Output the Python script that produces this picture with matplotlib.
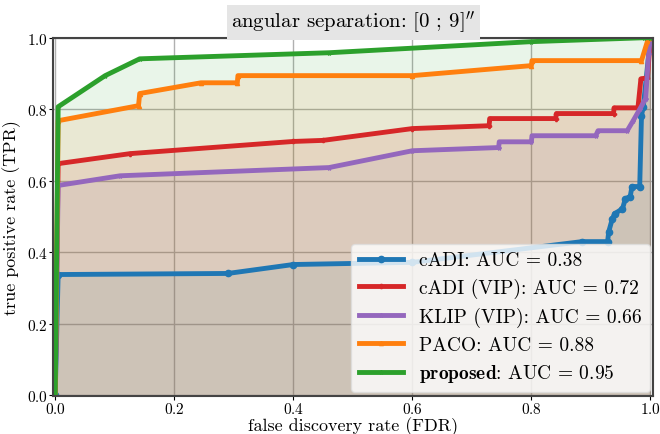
import numpy as np
import matplotlib
matplotlib.use("Agg")
import matplotlib.pyplot as plt

plt.rcParams['font.family'] = 'serif'
plt.rcParams['font.serif'] = ['cmr10']
plt.rcParams['mathtext.fontset'] = 'cm'
plt.rcParams['axes.formatter.use_mathtext'] = True

# ROC-like curves: (FDR, TPR)
cadi_x = [0.0, 0.005, 0.29, 0.40, 0.60, 0.885, 0.928, 0.93, 0.936, 0.94, 0.953, 0.958, 0.966, 0.969, 0.982, 0.985, 0.988, 1.0]
cadi_y = [0.0, 0.338, 0.341, 0.366, 0.372, 0.43, 0.43, 0.458, 0.494, 0.508, 0.522, 0.55, 0.556, 0.584, 0.584, 0.782, 0.807, 1.0]

cadivip_x = [0.0, 0.005, 0.126, 0.40, 0.45, 0.60, 0.729, 0.73, 0.841, 0.842, 0.938, 0.939, 0.979, 0.984, 0.995, 1.0]
cadivip_y = [0.0, 0.648, 0.676, 0.71, 0.713, 0.746, 0.754, 0.774, 0.774, 0.788, 0.788, 0.804, 0.804, 0.885, 0.888, 1.0]

klip_x = [0.0, 0.005, 0.109, 0.46, 0.60, 0.745, 0.746, 0.80, 0.801, 0.908, 0.912, 0.961, 0.971, 0.982, 0.992, 0.997, 1.0]
klip_y = [0.0, 0.587, 0.614, 0.637, 0.684, 0.693, 0.709, 0.709, 0.726, 0.726, 0.74, 0.74, 0.768, 0.80, 0.83, 0.955, 1.0]

paco_x = [0.0, 0.005, 0.14, 0.142, 0.245, 0.306, 0.307, 0.60, 0.80, 0.801, 0.985, 0.995, 1.0]
paco_y = [0.0, 0.768, 0.81, 0.844, 0.874, 0.874, 0.894, 0.894, 0.922, 0.936, 0.936, 0.99, 1.0]

prop_x = [0.0, 0.005, 0.084, 0.142, 0.46, 0.80, 0.99, 1.0]
prop_y = [0.0, 0.807, 0.894, 0.941, 0.958, 0.989, 1.0, 1.0]

labels = ["cADI: AUC = 0.38", "cADI (VIP): AUC = 0.72", "KLIP (VIP): AUC = 0.66",
          "PACO: AUC = 0.88", r"$\mathbf{proposed}$: AUC = 0.95"]
colors = ["#1f77b4", "#d62728", "#9467bd", "#ff7f0e", "#2ca02c"]
markers = ["o", "P", "*", "^", "*"]
msizes = [4.5, 3, 3, 3, 3]

curves = [(cadi_x, cadi_y), (cadivip_x, cadivip_y), (klip_x, klip_y),
          (paco_x, paco_y), (prop_x, prop_y)]

fig = plt.figure(figsize=(6.6, 4.35), dpi=100)
ax = fig.add_axes([0.080, 0.087, 0.910, 0.824])

for (x, y), lab, c, m, ms in zip(curves, labels, colors, markers, msizes):
    ax.fill_between(x, y, 0, color=c, alpha=0.1, lw=0)
    ax.plot(x, y, color=c, lw=3.5, marker=m, ms=ms, label=lab)

ax.set_xlim(-0.004, 1.005)
ax.set_ylim(-0.002, 1.0)
ax.set_xticks([0.0, 0.2, 0.4, 0.6, 0.8, 1.0])
ax.set_yticks([0.0, 0.2, 0.4, 0.6, 0.8, 1.0])
ax.tick_params(labelsize=11, length=3, pad=0.5)
ax.grid(True, color="#b0b0b0", lw=1)
ax.set_axisbelow(True)
for s in ax.spines.values():
    s.set_color("#444444")
    s.set_linewidth(1.5)

ax.set_xlabel("false discovery rate (FDR)", fontsize=13, labelpad=0)
ax.set_ylabel("true positive rate (TPR)", fontsize=13, labelpad=4)
ax.set_title(r"angular separation: [0 ; 9]$''$", fontsize=15, pad=7,
             bbox=dict(facecolor="#e5e5e5", edgecolor="none", pad=3))

ax.legend(loc="lower right", fontsize=14, framealpha=0.8, edgecolor="#dddddd",
          handlelength=2.3, handletextpad=0.8, borderaxespad=0.2, labelspacing=0.45,
          borderpad=0.4)

plt.savefig("out.png", dpi=100)
